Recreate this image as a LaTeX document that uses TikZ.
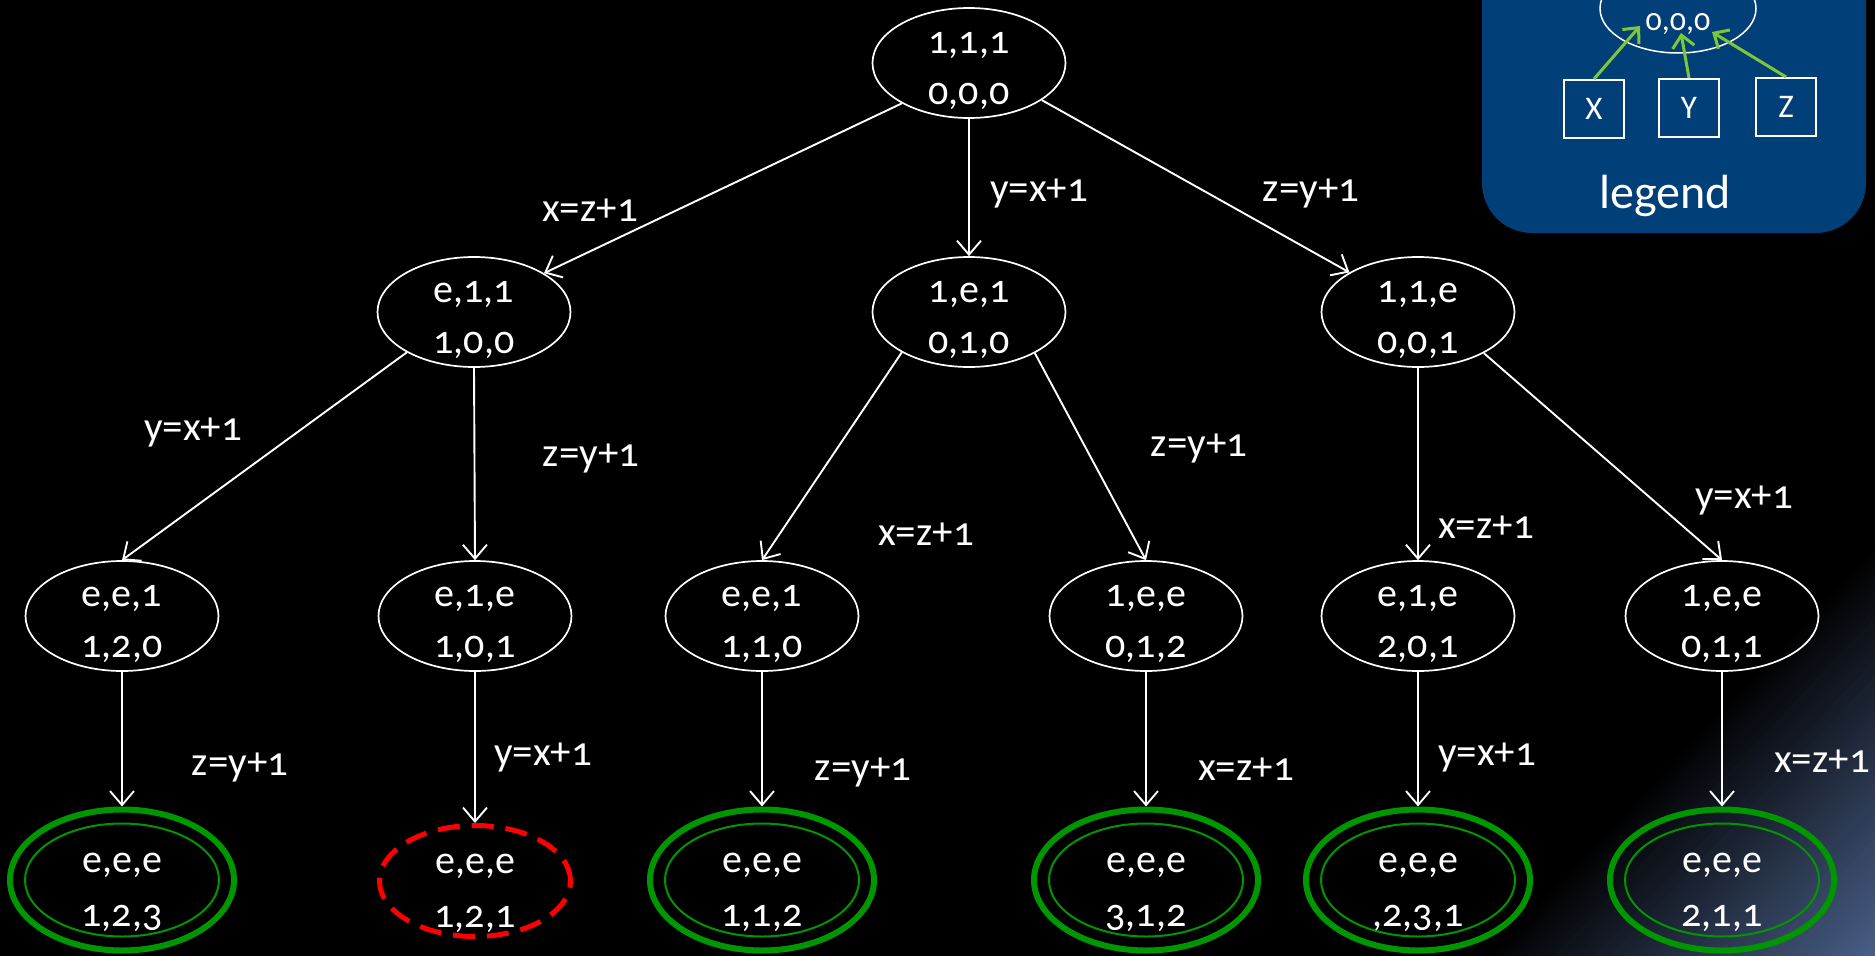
\documentclass[tikz,border=0pt]{standalone}
\usepackage{fontspec}
\setmainfont{Carlito}[Numbers=OldStyle]
\usetikzlibrary{shapes.geometric,arrows.meta}

\definecolor{okgreen}{RGB}{0,150,0}
\definecolor{failred}{RGB}{255,0,0}
\definecolor{legendblue}{RGB}{0,63,119}
\definecolor{linkgreen}{RGB}{125,200,55}
\definecolor{cornerblue}{RGB}{72,94,134}

% two centred lines of a state: first line raised by #3, second dropped by #4
\newcommand\twoline[4]{%
  \makebox[0pt]{\raisebox{#3}[0pt][0pt]{#1}}%
  \makebox[0pt]{\raisebox{-#4}[0pt][0pt]{#2}}}
\newcommand\stt[2]{\twoline{#1}{#2}{10pt}{41pt}}
\newcommand\fst[2]{\twoline{#1}{#2}{8pt}{46pt}}

\tikzset{
  state/.style={ellipse, draw=white, line width=1.7pt, minimum width=193pt,
    minimum height=110pt, inner sep=0pt, text=white,
    font=\fontsize{40}{48}\selectfont},
  final/.style={ellipse, draw=okgreen, line width=6pt, minimum width=224pt,
    minimum height=141pt, inner sep=0pt, text=white,
    font=\fontsize{40}{48}\selectfont},
  inner ring/.style={draw=okgreen, line width=2pt},
  failed/.style={ellipse, draw=failred, line width=5pt,
    dash pattern=on 22pt off 12pt, minimum width=191pt, minimum height=111pt,
    inner sep=0pt, text=white, font=\fontsize{40}{48}\selectfont},
  edge/.style={draw=white, line width=1.9pt,
    -{Straight Barb[length=14pt,width=24pt]}},
  cond/.style={text=white, anchor=base, inner sep=0pt,
    font=\fontsize{41}{48}\selectfont},
  varbox/.style={rectangle, draw=white, line width=2pt, minimum width=60pt,
    minimum height=58pt, inner sep=0pt, text=white,
    font=\fontsize{33}{40}\selectfont},
  link/.style={draw=linkgreen, line width=3pt,
    -{Straight Barb[length=12pt,width=22pt]}},
}

\begin{document}
\begin{tikzpicture}[x=1pt,y=-1pt]
  % canvas
  \fill[black] (0,0) rectangle (1875,956);
  \useasboundingbox (0,0) rectangle (1875,956);

  % bluish glow in the lower right corner
  \foreach \i in {0,...,47}{
    \pgfmathsetmacro\dd{280*(1-\i/48)}
    \pgfmathsetmacro\pp{100*(\i+1)/48}
    \fill[cornerblue!\pp!black] (1875,956) -- ({1875-\dd*1.377},956)
      -- (1875,{956-\dd*1.453}) -- cycle;
  }

  % legend panel
  \fill[legendblue, rounded corners=50pt] (1482,-80) rectangle (1866,233);
  \node[ellipse, draw=white, line width=1.5pt, minimum width=156pt,
    minimum height=89pt, inner sep=0pt, text=white,
    font=\fontsize{32}{38}\selectfont] (leg) at (1678,8.5)
    {\twoline{}{0,0,0}{0pt}{21.5pt}};
  \node[varbox] (bx) at (1594,109) {X};
  \node[varbox] (by) at (1689,108) {Y};
  \node[varbox] (bz) at (1786,107) {Z};
  \coordinate (tx) at (1640,26);
  \coordinate (ty) at (1681,33);
  \coordinate (tz) at (1712,32);
  \draw[link] (bx.north) -- (tx);
  \draw[link] (by.north) -- (ty);
  \draw[link] (bz.north) -- (tz);
  \node[text=white, anchor=base, inner sep=0pt,
    font=\fontsize{48}{56}\selectfont] (legtitle) at (1665,208) {legend};

  % states
  \node[state] (r)  at (969,63)   {\stt{1,1,1}{0,0,0}};
  \node[state] (a)  at (474,312)  {\stt{e,1,1}{1,0,0}};
  \node[state] (b)  at (969,312)  {\stt{1,e,1}{0,1,0}};
  \node[state] (c)  at (1418,312) {\stt{1,1,e}{0,0,1}};
  \node[state] (a1) at (122,616)  {\stt{e,e,1}{1,2,0}};
  \node[state] (a2) at (475,616)  {\stt{e,1,e}{1,0,1}};
  \node[state] (b1) at (762,616)  {\stt{e,e,1}{1,1,0}};
  \node[state] (b2) at (1146,616) {\stt{1,e,e}{0,1,2}};
  \node[state] (c1) at (1418,616) {\stt{e,1,e}{2,0,1}};
  \node[state] (c2) at (1722,616) {\stt{1,e,e}{0,1,1}};

  % terminal states
  \node[final]  (a1f) at (122,880)  {\fst{e,e,e}{1,2,3}};
  \node[failed] (a2f) at (475,881)  {\fst{e,e,e}{1,2,1}};
  \node[final]  (b1f) at (762,880)  {\fst{e,e,e}{1,1,2}};
  \node[final]  (b2f) at (1146,880) {\fst{e,e,e}{3,1,2}};
  \node[final]  (c1f) at (1418,880) {\fst{e,e,e}{,2,3,1}};
  \node[final]  (c2f) at (1722,880) {\fst{e,e,e}{2,1,1}};
  \foreach \n in {a1f,b1f,b2f,c1f,c2f}
    \draw[inner ring] (\n.center) ellipse[x radius=97pt, y radius=56.5pt];

  % transitions
  \draw[edge] (r.211)   -- (a.29);
  \draw[edge] (r.south) -- (b.north);
  \draw[edge] (r.333)   -- (c.150);
  \draw[edge] (a.211)   -- (a1.north);
  \draw[edge] (a.south) -- (a2.north);
  \draw[edge] (b.211)   -- (b1.north);
  \draw[edge] (b.328)   -- (b2.north);
  \draw[edge] (c.south) -- (c1.north);
  \draw[edge] (c.328)   -- (c2.north);
  \draw[edge] (a1.south) -- (a1f.north);
  \draw[edge] (a2.south) -- (a2f.north);
  \draw[edge] (b1.south) -- (b1f.north);
  \draw[edge] (b2.south) -- (b2f.north);
  \draw[edge] (c1.south) -- (c1f.north);
  \draw[edge] (c2.south) -- (c2f.north);

  % transition conditions
  \node[cond] (l1)  at (590,221)  {x=z+1};
  \node[cond] (l2)  at (1039,201) {y=x+1};
  \node[cond] (l3)  at (1311,201) {z=y+1};
  \node[cond] (l4)  at (193,440)  {y=x+1};
  \node[cond] (l5)  at (591,466)  {z=y+1};
  \node[cond] (l6)  at (926,545)  {x=z+1};
  \node[cond] (l7)  at (1199,456) {z=y+1};
  \node[cond] (l8)  at (1486,538) {x=z+1};
  \node[cond] (l9)  at (1744,508) {y=x+1};
  \node[cond] (l10) at (240,775)  {z=y+1};
  \node[cond] (l11) at (543,765)  {y=x+1};
  \node[cond] (l12) at (863,780)  {z=y+1};
  \node[cond] (l13) at (1246,780) {x=z+1};
  \node[cond] (l14) at (1487,765) {y=x+1};
  \node[cond] (l15) at (1822,772) {x=z+1};
\end{tikzpicture}
\end{document}
